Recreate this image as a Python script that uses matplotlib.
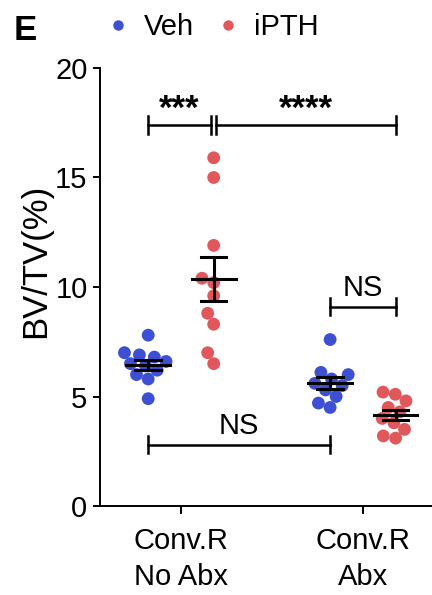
import numpy as np
import matplotlib
matplotlib.use("Agg")
import matplotlib.pyplot as plt
from matplotlib.lines import Line2D

plt.rcParams['font.family'] = ['Liberation Sans', 'DejaVu Sans']
fs = 21

# data (BV/TV %)
categories = ["Conv.R\nNo Abx", "Conv.R\nAbx"]
treatments = ["Veh", "iPTH"]
veh_noabx = [7.8, 7.0, 6.9, 6.8, 6.6, 6.5, 6.4, 6.2, 6.0, 5.8, 4.9]
pth_noabx = [15.9, 15.0, 11.9, 10.4, 10.2, 9.6, 8.8, 8.3, 7.0, 6.5]
veh_abx = [7.6, 6.1, 6.0, 5.8, 5.6, 5.5, 5.3, 5.0, 4.7, 4.5]
pth_abx = [5.2, 5.1, 4.8, 4.5, 4.3, 4.0, 3.8, 3.5, 3.2, 3.1]

# comparisons: (group a, group b, label); groups ordered veh_noabx, pth_noabx, veh_abx, pth_abx
comparisons = [(0, 1, "***"), (1, 3, "****"), (2, 3, "NS"), (0, 2, "NS")]
bracket_y = [17.4, 17.4, 9.1, 2.8]

colors = {"Veh": "#3d4fd3", "iPTH": "#e0585b"}
dodge = 0.18

groups = [(0, "Veh", veh_noabx), (0, "iPTH", pth_noabx),
          (1, "Veh", veh_abx), (1, "iPTH", pth_abx)]


def swarm_x(ax, values, xc, diam):
    # simple beeswarm in pixel space
    tr = ax.transData
    x0 = tr.transform((xc, 0))[0]
    ys = [tr.transform((xc, v))[1] for v in values]
    placed = []
    offs = np.zeros(len(values))

    def ok(c, y):
        return all((c - px) ** 2 + (y - py) ** 2 >= diam ** 2 - 1e-6 for px, py in placed)

    for i in np.argsort(values):
        y = ys[i]
        cands = [0.0]
        for px, py in placed:
            dy = abs(y - py)
            if dy < diam:
                dx = np.sqrt(diam ** 2 - dy ** 2)
                cands += [px - dx, px + dx]
        cands.sort(key=abs)
        c = next(c for c in cands if ok(c, y))
        placed.append((c, y))
        offs[i] = c
    inv = tr.inverted()
    return [inv.transform((x0 + o, y))[0] for o, y in zip(offs, ys)]


fig = plt.figure(figsize=(4.32, 5.95), dpi=100)
ax = fig.add_axes([100 / 432, 89 / 595, 332 / 432, 438 / 595])
ax.set_xlim(-0.445, 1.38)
ax.set_ylim(0, 20)

centers = []
for cat, trt, vals in groups:
    xc = cat + (-dodge if trt == "Veh" else dodge)
    centers.append(xc)
    xs = swarm_x(ax, vals, xc, 12.5)
    ax.scatter(xs, vals, s=85, color=colors[trt], edgecolors='none', zorder=2)
    m = np.mean(vals)
    sem = np.std(vals, ddof=1) / np.sqrt(len(vals))
    ax.plot([xc - 0.12, xc + 0.12], [m, m], color='black', lw=2.2, zorder=3)
    ax.plot([xc, xc], [m - sem, m + sem], color='black', lw=2.2, zorder=3)
    for yy in (m - sem, m + sem):
        ax.plot([xc - 0.07, xc + 0.07], [yy, yy], color='black', lw=2.2, zorder=3)

# significance brackets
for (a, b, lab), yb in zip(comparisons, bracket_y):
    xa, xb = centers[a], centers[b]
    if lab == "***":
        xb -= 0.015
    if lab == "****":
        xa += 0.015
    ax.plot([xa, xb], [yb, yb], color='black', lw=1.8, zorder=3)
    for xx in (xa, xb):
        ax.plot([xx, xx], [yb - 0.4, yb + 0.4], color='black', lw=1.8, zorder=3)
    if lab.startswith("*"):
        ax.text((xa + xb) / 2, yb + 0.7, lab, ha='center', va='center',
                fontsize=25, fontweight='bold')
    else:
        ax.text((xa + xb) / 2, yb + 0.2, lab, ha='center', va='bottom', fontsize=fs)

ax.spines['top'].set_visible(False)
ax.spines['right'].set_visible(False)
ax.spines['left'].set_linewidth(1.4)
ax.spines['bottom'].set_linewidth(1.4)
ax.set_yticks([0, 5, 10, 15, 20])
ax.set_xticks([0, 1])
ax.set_xticklabels(categories, linespacing=1.35)
ax.tick_params(axis='y', labelsize=fs, length=5, width=1.4, pad=4)
ax.tick_params(axis='x', labelsize=fs, length=6, width=1.4, pad=9)
ax.set_ylabel("BV/TV(%)", fontsize=25)
ax.yaxis.set_label_coords(-0.145, 0.56)

handles = [Line2D([], [], marker='o', ls='none', markersize=7.5,
                  markerfacecolor=colors[t], markeredgecolor='none') for t in treatments]
fig.legend(handles, treatments, loc='center left', bbox_to_anchor=(106 / 432, 1 - 27 / 595),
           ncol=2, frameon=False, fontsize=fs, handlelength=0.8, handletextpad=0.5,
           columnspacing=0.75, borderpad=0, borderaxespad=0)

fig.text(14 / 432, 1 - 30 / 595, "E", fontsize=25, fontweight='bold', va='center')

fig.savefig("out.png", dpi=100)
